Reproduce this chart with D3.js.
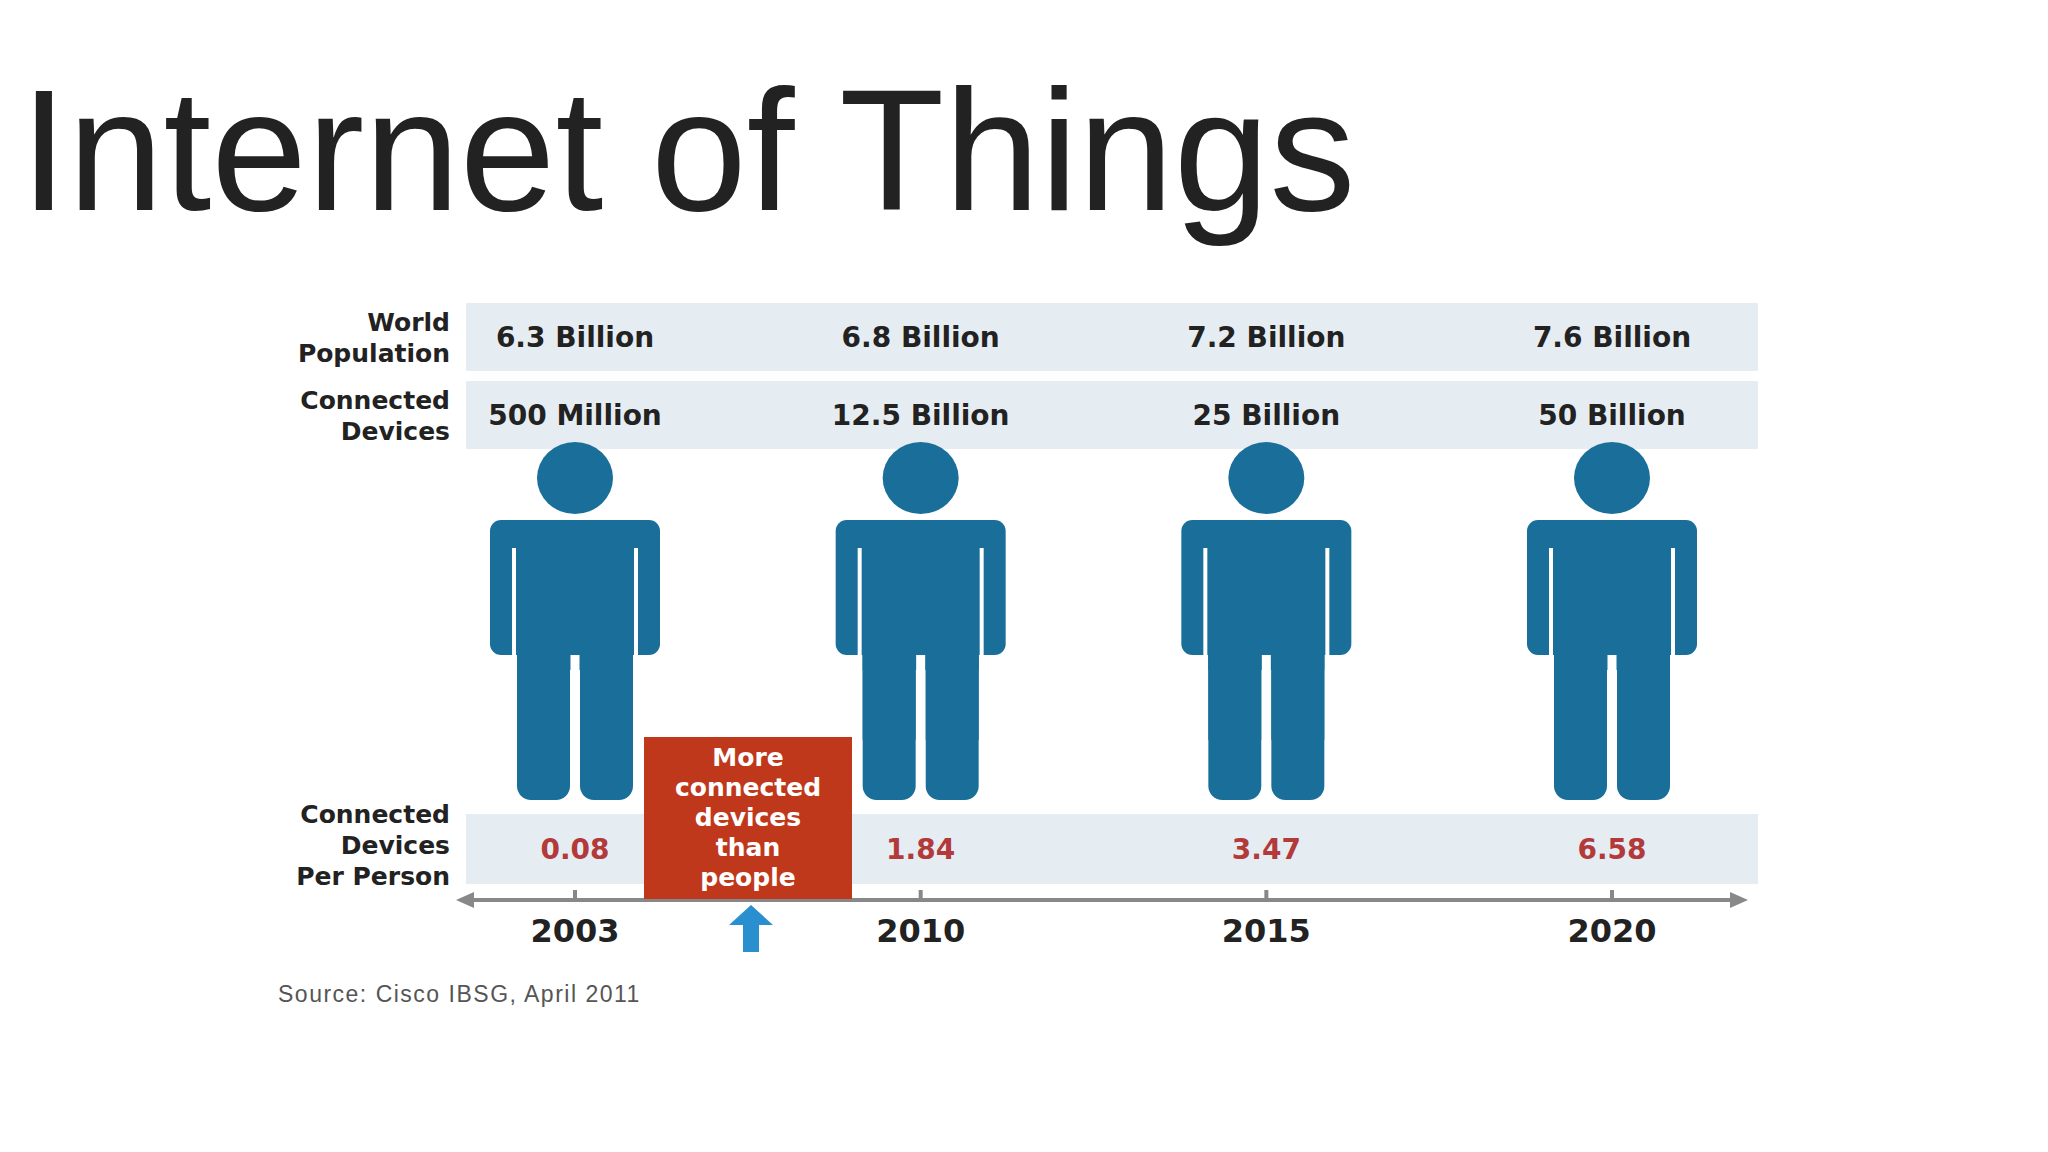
<!DOCTYPE html>
<html><head><meta charset="utf-8">
<script src="https://cdn.jsdelivr.net/npm/d3@7"></script>
<style>body{margin:0;background:#fff}svg{display:block}</style>
</head><body><div id="chart"></div>
<script>
const years = ["2003", "2010", "2015", "2020"];
const population = ["6.3 Billion", "6.8 Billion", "7.2 Billion", "7.6 Billion"];
const devices = ["500 Million", "12.5 Billion", "25 Billion", "50 Billion"];
const perPerson = [0.08, 1.84, 3.47, 6.58];

const W = 2048, H = 1152;
const blue = "#1a6f9a", band = "#e6edf2", red = "#c0381c";
const svg = d3.select("#chart").append("svg").attr("width", W).attr("height", H);

svg.append("text").attr("x", 20).attr("y", 210)
  .attr("font-family", "'Liberation Sans', Arial, sans-serif").attr("font-size", 172)
  .attr("fill", "#222").text("Internet of Things");

const x = d3.scalePoint().domain(years).range([575, 1612]);
const left = 466, right = 1758;
const font = "'DejaVu Sans', Verdana, sans-serif";

// bands
const bands = [[303, 68], [381, 68], [814, 70]];
svg.selectAll("rect.band").data(bands).enter().append("rect")
  .attr("x", left).attr("y", d => d[0]).attr("width", right - left).attr("height", d => d[1])
  .attr("fill", band);

// row labels
const labels = [[["World", "Population"], 337], [["Connected", "Devices"], 415], [["Connected", "Devices", "Per Person"], 845]];
labels.forEach(([lines, cy]) => {
  const t = svg.append("text").attr("text-anchor", "end").attr("font-family", font)
    .attr("font-weight", "bold").attr("font-size", 25).attr("fill", "#222");
  lines.forEach((l, i) => t.append("tspan").attr("x", 450)
    .attr("y", cy + (i - (lines.length - 1) / 2) * 31 + 9).text(l));
});

const g = svg.selectAll("g.col").data(years).enter().append("g")
  .attr("transform", d => `translate(${x(d)},0)`);
g.append("text").attr("y", 347).attr("text-anchor", "middle").attr("font-family", font)
  .attr("font-weight", "bold").attr("font-size", 28).attr("fill", "#222")
  .text((d, i) => population[i]);
g.append("text").attr("y", 425).attr("text-anchor", "middle").attr("font-family", font)
  .attr("font-weight", "bold").attr("font-size", 28).attr("fill", "#222")
  .text((d, i) => devices[i]);
g.append("text").attr("y", 859).attr("text-anchor", "middle").attr("font-family", font)
  .attr("font-weight", "bold").attr("font-size", 28).attr("fill", "#b23a3a")
  .text((d, i) => perPerson[i].toFixed(2));

// person figure
g.append("ellipse").attr("cx", 0).attr("cy", 478).attr("rx", 38).attr("ry", 36).attr("fill", blue);
g.append("rect").attr("x", -85).attr("y", 520).attr("width", 170).attr("height", 135).attr("rx", 11).attr("fill", blue);
g.append("rect").attr("x", -58).attr("y", 600).attr("width", 116).attr("height", 70).attr("fill", blue);
[-1, 1].forEach(s => {
  g.append("rect").attr("x", s < 0 ? -58 : 5).attr("y", 640).attr("width", 53).attr("height", 160)
    .attr("rx", 14).attr("fill", blue);
  g.append("rect").attr("x", s < 0 ? -58 : 5).attr("y", 640).attr("width", 53).attr("height", 100).attr("fill", blue);
  g.append("line").attr("x1", s * 61).attr("x2", s * 61).attr("y1", 548).attr("y2", 655)
    .attr("stroke", "#fff").attr("stroke-width", 4);
});
g.append("line").attr("x1", 0).attr("x2", 0).attr("y1", 655).attr("y2", 800)
  .attr("stroke", "#fff").attr("stroke-width", 9);

// axis
const axisY = 900;
svg.append("line").attr("x1", 468).attr("x2", 1735).attr("y1", axisY).attr("y2", axisY)
  .attr("stroke", "#888").attr("stroke-width", 4);
svg.append("path").attr("d", `M456,${axisY} l18,-8 v16 z`).attr("fill", "#888");
svg.append("path").attr("d", `M1748,${axisY} l-18,-8 v16 z`).attr("fill", "#888");
g.append("line").attr("y1", axisY - 10).attr("y2", axisY).attr("stroke", "#888").attr("stroke-width", 4);
g.append("text").attr("y", 942).attr("text-anchor", "middle").attr("font-family", font)
  .attr("font-weight", "bold").attr("font-size", 32).attr("fill", "#222").text(d => d);

// callout
const bx = 644, by = 737;
svg.append("rect").attr("x", bx).attr("y", by).attr("width", 208).attr("height", 162).attr("fill", red);
const ct = svg.append("text").attr("text-anchor", "middle").attr("font-family", font)
  .attr("font-weight", "bold").attr("font-size", 25).attr("fill", "#fff");
["More", "connected", "devices", "than", "people"].forEach((l, i) =>
  ct.append("tspan").attr("x", bx + 104).attr("y", by + 29 + i * 30).text(l));
svg.append("path").attr("d", "M751,905 l-22,20 h14 v27 h16 v-27 h14 z").attr("fill", "#2a8fcf");

svg.append("text").attr("x", 278).attr("y", 1002).attr("font-family", "Arial, 'Liberation Sans', sans-serif")
  .attr("font-size", 23).attr("letter-spacing", 1.5).attr("fill", "#555").text("Source: Cisco IBSG, April 2011");
</script></body></html>
